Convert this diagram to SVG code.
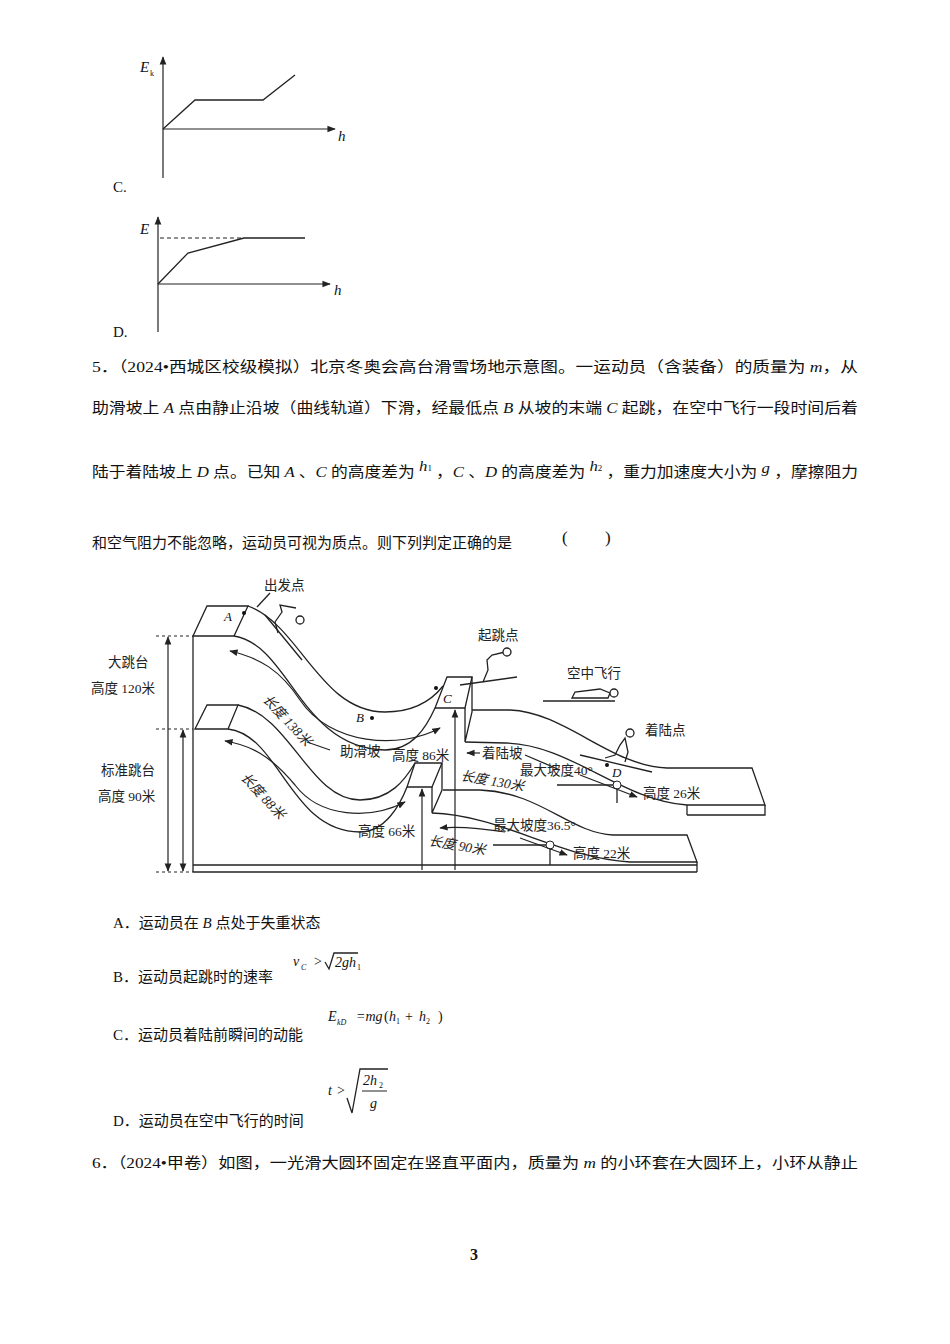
<svg xmlns="http://www.w3.org/2000/svg" width="950" height="1344" viewBox="0 0 950 1344">
<style>
.t{font-family:"Liberation Serif","Noto Sans CJK SC",serif;font-size:15px;fill:#111}
.s{font-family:"Liberation Serif","Noto Sans CJK SC",serif;font-size:13.5px;fill:#222}
.i{font-family:"Liberation Serif",serif;font-style:italic;fill:#111}
.l{fill:none;stroke:#222;stroke-width:1.3}
.a{fill:none;stroke:#222;stroke-width:1.2;marker-end:url(#ar)}
.d{fill:none;stroke:#222;stroke-width:1.2;marker-end:url(#ar);marker-start:url(#ar)}
</style>
<defs>
<marker id="ar" viewBox="0 0 10 10" refX="9" refY="5" markerWidth="7" markerHeight="7" orient="auto-start-reverse"><path d="M0,1 L10,5 L0,9 z" fill="#222"/></marker>
</defs>
<rect width="950" height="1344" fill="#fff"/>
<g id="graphC">
<line class="a" x1="163" y1="178" x2="163" y2="57"/>
<line class="a" x1="163" y1="129" x2="335" y2="129"/>
<polyline class="l" points="163,129 195,100 263,100 295,75"/>
<text class="i" x="140" y="72" style="font-size:15px">E</text><text class="t" x="150" y="76" style="font-size:8px">k</text>
<text class="i" x="338" y="141" style="font-size:15px">h</text>
<text class="t" x="113" y="192">C.</text>
</g>
<g id="graphD">
<line class="a" x1="158" y1="332" x2="158" y2="217"/>
<line class="a" x1="158" y1="284" x2="330" y2="284"/>
<line x1="160" y1="238" x2="244" y2="238" stroke="#222" stroke-width="1.1" stroke-dasharray="4,3"/>
<polyline class="l" points="158,284 188,253 244,238 305,238"/>
<text class="i" x="140" y="234" style="font-size:15px">E</text>
<text class="i" x="334" y="295" style="font-size:15px">h</text>
<text class="t" x="113" y="337">D.</text>
</g>
<g id="question">
<text class="t" x="92" y="372" textLength="766" lengthAdjust="spacingAndGlyphs">5．（2024•西城区校级模拟）北京冬奥会高台滑雪场地示意图。一运动员（含装备）的质量为 <tspan class="i">m</tspan>，从</text>
<text class="t" x="92" y="413" textLength="766" lengthAdjust="spacingAndGlyphs">助滑坡上 <tspan class="i">A</tspan> 点由静止沿坡（曲线轨道）下滑，经最低点 <tspan class="i">B</tspan> 从坡的末端 <tspan class="i">C</tspan> 起跳，在空中飞行一段时间后着</text>
<text class="t" x="92" y="477" textLength="766" lengthAdjust="spacingAndGlyphs">陆于着陆坡上 <tspan class="i">D</tspan> 点。已知 <tspan class="i">A</tspan> 、<tspan class="i">C</tspan> 的高度差为 <tspan class="i" dy="-6">h</tspan><tspan style="font-size:8px">1</tspan><tspan dy="6"> ，</tspan><tspan class="i">C</tspan> 、<tspan class="i">D</tspan> 的高度差为 <tspan class="i" dy="-6">h</tspan><tspan style="font-size:8px">2</tspan><tspan dy="6"> ，</tspan>重力加速度大小为 <tspan class="i" dy="-4">g</tspan><tspan dy="4"> ，</tspan>摩擦阻力</text>
<text class="t" x="92" y="548">和空气阻力不能忽略，运动员可视为质点。则下列判定正确的是</text>
<text class="t" x="562" y="543" style="font-size:17px">(</text><text class="t" x="605" y="543" style="font-size:17px">)</text>
</g>
<g id="diagram">
<polygon class="l" points="193,636 207,606 248,606 234,636"/>
<line class="l" x1="193" y1="636" x2="193" y2="872"/>
<path class="l" d="M248,606 C300,625 320,712 385,712 C415,712 432,700 443,686"/>
<path class="l" d="M234,636 C290,645 300,748 385,750 C412,750 426,728 435,708"/>
<path class="d" d="M440,728 C400,750 330,745 300,700 C280,670 260,658 230,651"/>
<path class="l" d="M307,742 L330,750"/>
<polygon class="l" points="447,677 472,677 465,708 435,708"/>
<path class="l" d="M472,677 L472,712 L465,742 L465,708"/>
<line class="a" x1="455" y1="870" x2="455" y2="710"/>
<polygon class="l" points="195,729 207,705 238,705 228,729"/>
<path class="l" d="M238,705 C290,715 310,800 360,800 C390,800 405,780 415,763"/>
<path class="l" d="M228,729 C280,735 290,832 360,832 C385,832 400,805 407,787"/>
<path class="d" d="M405,802 C370,820 320,818 295,785 C270,755 250,745 225,741"/>
<polygon class="l" points="415,763 442,763 432,787 407,787"/>
<path class="l" d="M442,763 L442,790 L432,813 L432,787"/>
<line class="a" x1="422" y1="870" x2="422" y2="789"/>
<path class="l" d="M472,710 L510,710 C565,712 610,766 667,768 L752,768 L765,805 L687,805 C620,800 570,744 505,743 L465,742"/>
<path class="l" d="M765,805 L765,815 L687,815"/>
<line class="l" x1="687" y1="805" x2="687" y2="815"/>
<path class="l" d="M443,790 L480,790 C540,792 570,833 613,835 L687,835 L697,862 L630,862 C560,858 500,815 432,813"/>
<path class="l" d="M697,862 L697,872"/>
<line class="l" x1="193" y1="865" x2="697" y2="865"/>
<line class="l" x1="193" y1="872" x2="697" y2="872"/>
<g stroke="#222" stroke-width="1" stroke-dasharray="3,3"><line x1="156" y1="636" x2="193" y2="636"/><line x1="156" y1="729" x2="193" y2="729"/><line x1="156" y1="872" x2="193" y2="872"/></g>
<line class="d" x1="168" y1="637" x2="168" y2="871"/>
<line class="d" x1="183" y1="730" x2="183" y2="871"/>
<line class="a" x1="480" y1="753" x2="467" y2="753"/>
<line class="l" x1="525" y1="755" x2="560" y2="770"/>
<line class="l" x1="557" y1="785" x2="613" y2="785"/>
<circle cx="617" cy="785" r="4" fill="#fff" stroke="#222"/>
<line class="l" x1="617" y1="789" x2="617" y2="803"/>
<line class="a" x1="580" y1="775" x2="637" y2="797"/>
<line class="l" x1="493" y1="845" x2="546" y2="845"/>
<circle cx="550" cy="845" r="4" fill="#fff" stroke="#222"/>
<line class="l" x1="550" y1="849" x2="550" y2="865"/>
<line class="a" x1="520" y1="838" x2="567" y2="855"/>
<path class="a" d="M505,832 C480,828 460,826 440,828"/>
<g class="l">
<path d="M257,607 L270,593"/>
<path d="M265,615 L302,660"/>
<path d="M278,633 L275,622 L282,612 L280,605 L296,608"/>
<circle cx="300" cy="620" r="4" fill="#fff"/>
<path d="M460,685 L517,677"/>
<path d="M483,682 L488,670 L487,660 L492,655 L505,652"/>
<circle cx="507" cy="652" r="4" fill="#fff"/>
<path d="M543,701 L615,701"/>
<path d="M572,698 L575,692 L600,689 L610,693 L608,698 Z"/>
<circle cx="614" cy="693" r="4" fill="#fff"/>
<path d="M580,755 L652,772"/>
<path d="M605,758 L615,755 L620,745 L625,738 L628,752 L625,762"/>
<circle cx="630" cy="733" r="4" fill="#fff"/>
</g>
<g fill="#111"><circle cx="244" cy="613" r="2"/><circle cx="372" cy="718" r="2"/><circle cx="436" cy="688" r="2"/><circle cx="607" cy="765" r="2"/></g>
<text class="i" x="224" y="621" style="font-size:13px">A</text>
<text class="i" x="356" y="722" style="font-size:13px">B</text>
<text class="i" x="443" y="703" style="font-size:13px">C</text>
<text class="i" x="612" y="777" style="font-size:13px">D</text>
<text class="s" x="264" y="590">出发点</text>
<text class="s" x="478" y="640">起跳点</text>
<text class="s" x="567" y="678">空中飞行</text>
<text class="s" x="645" y="735">着陆点</text>
<text class="s" x="108" y="667">大跳台</text>
<text class="s" x="91" y="693">高度 120米</text>
<text class="s" x="101" y="775">标准跳台</text>
<text class="s" x="98" y="801">高度 90米</text>
<text class="s" x="340" y="756">助滑坡</text>
<text class="s" x="392" y="760">高度 86米</text>
<text class="s" x="358" y="836">高度 66米</text>
<text class="s" x="482" y="758">着陆坡</text>
<text class="s" x="520" y="775">最大坡度40°</text>
<text class="s" x="643" y="798">高度 26米</text>
<text class="s" x="493" y="830">最大坡度36.5°</text>
<text class="s" x="573" y="858">高度 22米</text>
<text class="s" x="460" y="780" transform="rotate(10 460 780)" font-style="italic">长度 130米</text>
<text class="s" x="428" y="845" transform="rotate(10 428 845)" font-style="italic">长度 90米</text>
<text class="s" x="262" y="700" transform="rotate(47 262 700)" font-style="italic">长度 138米</text>
<text class="s" x="240" y="778" transform="rotate(47 240 778)" font-style="italic">长度 88米</text>
</g>
<g id="options">
<text class="t" x="113" y="928">A．运动员在 <tspan class="i">B</tspan> 点处于失重状态</text>
<text class="t" x="113" y="982">B．运动员起跳时的速率</text>
<text class="i" x="293" y="966" style="font-size:14px">v</text><text class="i" x="301" y="970" style="font-size:8px">C</text>
<text class="t" x="314" y="966" style="font-size:14px">&gt;</text>
<path class="l" d="M325,962 L329,969 L334,953 L358,953" stroke-width="1"/>
<text class="i" x="335" y="967" style="font-size:14px">2gh</text><text class="t" x="357" y="970" style="font-size:8px">1</text>
<text class="t" x="113" y="1040">C．运动员着陆前瞬间的动能</text>
<text class="i" x="328" y="1021" style="font-size:14px">E</text><text class="i" x="337" y="1025" style="font-size:8px">kD</text>
<text class="i" x="356" y="1021" style="font-size:14px">=mg</text><text class="t" x="384" y="1021" style="font-size:14px">(</text>
<text class="i" x="389" y="1021" style="font-size:14px">h</text><text class="t" x="396" y="1024" style="font-size:8px">1</text>
<text class="t" x="405" y="1021" style="font-size:14px">+</text>
<text class="i" x="419" y="1021" style="font-size:14px">h</text><text class="t" x="426" y="1024" style="font-size:8px">2</text>
<text class="t" x="438" y="1021" style="font-size:14px">)</text>
<text class="t" x="113" y="1126">D．运动员在空中飞行的时间</text>
<text class="i" x="328" y="1095" style="font-size:14px">t</text><text class="t" x="337" y="1095" style="font-size:14px">&gt;</text>
<path class="l" d="M347,1098 L352,1113 L360,1069 L388,1069" stroke-width="1"/>
<text class="i" x="363" y="1085" style="font-size:14px">2h</text><text class="t" x="379" y="1088" style="font-size:8px">2</text>
<line x1="362" y1="1091" x2="387" y2="1091" stroke="#222" stroke-width="1"/>
<text class="i" x="370" y="1108" style="font-size:14px">g</text>
</g>
<g id="q6">
<text class="t" x="92" y="1168" textLength="766" lengthAdjust="spacingAndGlyphs">6．（2024•甲卷）如图，一光滑大圆环固定在竖直平面内，质量为 <tspan class="i">m</tspan> 的小环套在大圆环上，小环从静止</text>
</g>
<text class="t" x="470" y="1260" style="font-size:16px;font-weight:bold">3</text>
</svg>
